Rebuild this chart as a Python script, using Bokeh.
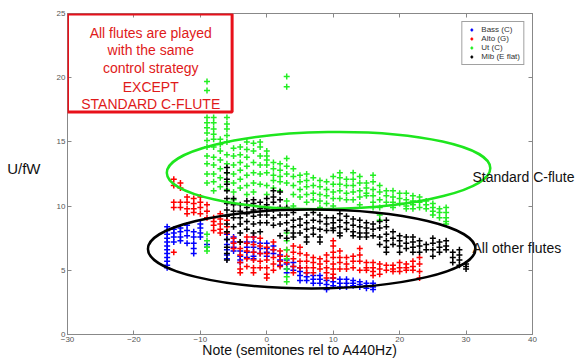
from bokeh.plotting import figure
from bokeh.models import (Range1d, LinearAxis, FixedTicker, BoxAnnotation, Label,
                          Legend, LegendItem, ColumnDataSource, CustomJSTickFormatter)
from bokeh.embed import file_html
from bokeh.resources import INLINE

# ---------------- data ----------------
x_ticks = [-30, -20, -10, 0, 10, 20, 30, 40]
y_ticks = [0, 5, 10, 15, 20, 25]

bass_notes = [-15, -14, -13, -12, -11, -10, -9, -6, -5, -4, -3, -2, -1, 0, 1, 2, 3, 4, 5, 6, 7, 8, 9, 10, 11, 12, 13, 14, 15, 16]
bass_vals = [
    [8.4, 8.1, 7.8, 7.5, 7.2, 6.9, 6.6, 6.3, 6.0, 5.7, 5.4, 5.2],
    [8.2, 7.9, 7.6, 7.2],
    [8.3, 8.0, 7.6, 7.3],
    [8.5, 8.1, 7.7, 7.1],
    [8.0, 7.6, 7.1, 6.7, 6.3],
    [8.6, 8.3, 7.9, 7.6],
    [7.0, 6.8],
    [7.8, 7.4, 7.0, 6.6, 6.2, 5.9],
    [7.6, 7.2, 6.8, 6.5],
    [6.5, 6.1, 5.8, 5.6],
    [7.2, 6.8, 6.4, 6.0],
    [7.6, 7.2, 6.8, 6.4, 6.1, 5.9],
    [7.1, 6.7, 6.3],
    [7.1, 6.7, 6.4, 6.1],
    [6.9, 6.6, 6.3],
    [6.2, 5.8, 5.4],
    [5.8, 5.5, 5.1, 4.8],
    [5.6, 5.3, 5.0],
    [5.2, 4.9, 4.6, 4.2],
    [4.8, 4.5, 4.2],
    [4.6, 4.3, 4.0],
    [4.6, 4.3, 4.0],
    [4.2, 3.9, 3.5],
    [4.4, 4.1, 3.8],
    [4.3, 4.0, 3.7],
    [4.3, 4.0, 3.7],
    [4.2, 4.0, 3.8],
    [4.1, 3.9, 3.7],
    [4.0, 3.8, 3.6],
    [4.0, 3.7, 3.5],
]

alto_notes = [-14, -13, -12, -11, -10, -9, -8, -7, -6, -5, -4, -3, -2, -1, 0, 1, 2, 3, 4, 5, 6, 7, 8, 9, 10, 11, 12, 13, 14, 15, 16, 17, 18, 19, 20, 21, 22, 23]
alto_vals = [
    [12.1, 11.6, 10.3, 9.9, 6.4],
    [11.8, 11.4, 10.3, 9.9],
    [10.7, 10.3, 9.8, 9.4],
    [10.6, 10.2, 9.8, 9.5],
    [10.7, 10.3, 9.9, 9.4],
    [10.1, 9.6, 9.1],
    [9.1, 8.8, 8.5, 8.1],
    [9.4, 9.0, 8.6, 8.2, 7.9],
    [8.9, 8.4, 7.9],
    [7.5, 7.1, 6.7],
    [7.2, 6.7, 6.2, 5.6, 5.1, 4.8],
    [7.6, 7.1, 6.5, 5.9, 5.3],
    [7.6, 7.0, 6.4, 5.8, 5.2, 4.8],
    [7.5, 6.9, 6.3, 5.7, 5.2],
    [6.8, 6.3, 5.8, 5.2, 4.7, 4.4],
    [7.2, 6.6, 6.0, 5.5, 5.0],
    [6.5, 6.1, 5.7, 5.3],
    [6.6, 6.1, 5.6],
    [6.9, 6.4, 5.9, 5.3, 4.8],
    [6.8, 6.3, 5.7, 5.2],
    [6.2, 5.7, 5.2, 4.8],
    [6.0, 5.6, 5.2, 4.8],
    [5.9, 5.5, 5.1],
    [6.2, 5.7, 5.2, 4.8, 4.4],
    [7.3, 6.9, 6.4, 6.0, 5.5, 5.1, 4.7, 4.4],
    [6.5, 6.0, 5.6, 5.1],
    [6.0, 5.5, 5.1],
    [6.1, 5.7, 5.2],
    [6.7, 6.2, 5.7, 5.0],
    [5.6, 5.2, 5.0],
    [5.6, 5.2, 4.9, 4.6],
    [5.5, 5.1, 4.7],
    [5.4, 5.0],
    [5.4, 5.1, 4.9],
    [5.6, 5.2, 4.9],
    [5.5, 5.2, 5.0],
    [5.7, 5.3, 5.0],
    [6.0, 5.5, 4.9, 4.4],
]

ut_notes = [-9, -8, -7, -6, -5, -4, -3, -2, -1, 0, 1, 2, 3, 4, 5, 6, 7, 8, 9, 10, 11, 12, 13, 14, 15, 16, 17, 18, 19, 20, 21, 22, 23, 24, 25, 26, 27]
ut_vals = [
    [19.7, 19.0, 16.9, 16.5, 16.1, 15.7, 15.1, 14.6, 13.9, 13.3, 12.5, 11.8, 7.8, 7.3, 6.8, 6.5],
    [16.9, 16.5, 16.0, 15.6, 15.2, 14.6, 13.8, 13.2, 12.5, 11.9, 11.2],
    [15.2, 14.8, 14.3, 13.6, 12.9, 12.2, 11.5],
    [16.9, 16.4, 16.0, 15.5, 15.0, 14.0, 13.3, 12.6, 11.9, 11.3],
    [14.5, 13.9, 13.2, 12.5, 11.8, 11.1, 10.5],
    [14.6, 14.0, 13.4, 12.8, 12.1, 11.4],
    [15.0, 14.4, 13.8, 13.1, 12.4, 11.6, 10.9],
    [14.9, 14.3, 13.4, 12.6, 11.8, 11.1],
    [15.0, 14.6, 13.9, 13.2, 12.5, 11.7],
    [14.3, 13.9, 13.6, 13.2, 12.6, 11.6, 10.9],
    [13.4, 12.9, 12.4, 12.0, 11.4],
    [13.3, 12.8, 12.3, 11.9, 11.2],
    [20.1, 19.3, 13.7, 13.1, 12.5, 11.8, 10.4, 9.9, 7.9, 7.3, 6.6, 5.9, 5.1, 4.5, 4.1],
    [12.9, 12.3, 11.6, 10.9, 10.0],
    [12.4, 11.9, 11.3, 10.7],
    [12.5, 12.0, 11.5, 10.9, 10.3],
    [12.2, 11.6, 11.0, 10.5],
    [12.0, 11.5, 10.9, 10.4, 9.9],
    [11.9, 11.3, 10.8, 10.2],
    [12.3, 11.7, 11.1, 10.6, 10.0],
    [12.6, 12.2, 11.7, 11.2, 10.6],
    [12.1, 11.6, 11.0, 10.5],
    [12.6, 12.1, 11.6, 11.1, 10.5],
    [12.3, 11.8, 11.2, 10.7, 10.1],
    [11.8, 11.4, 11.0, 10.8],
    [12.4, 11.9, 11.3, 10.8, 10.3, 9.9],
    [11.6, 11.1, 10.5, 9.9, 9.3, 8.9],
    [11.2, 10.8, 10.3],
    [11.2, 10.7, 10.3, 9.9],
    [11.0, 10.6, 10.2],
    [11.0, 10.5, 10.0, 9.8],
    [10.8, 10.4, 10.1, 9.8],
    [10.7, 10.3, 9.9],
    [10.4, 10.1, 9.8],
    [10.2, 9.9, 9.6, 9.3],
    [9.8, 9.5, 9.1],
    [9.9, 9.5, 9.1, 8.8, 8.6],
]

mib_notes = [-6, -5, -4, -3, -2, -1, 0, 1, 2, 3, 4, 5, 6, 7, 8, 9, 10, 11, 12, 13, 14, 15, 16, 17, 18, 19, 20, 21, 22, 23, 24, 25, 26, 27, 28, 29, 30]
mib_vals = [
    [13.0, 12.6, 12.1, 11.7, 11.2, 10.6, 10.2, 9.7, 9.2, 8.6, 8.0, 7.4, 6.8, 6.3, 5.8],
    [10.6, 10.1, 9.6, 9.1, 8.4],
    [10.1, 9.6, 9.1, 8.6, 7.9, 7.2],
    [10.4, 9.9, 9.4, 8.8, 8.2],
    [10.5, 10.2, 9.7, 9.2, 8.6, 7.9],
    [10.3, 9.8, 9.3, 8.7, 8.0],
    [10.6, 10.1, 9.8, 9.3, 8.7],
    [11.2, 10.7, 10.3, 9.7, 9.1, 8.5],
    [11.1, 10.5, 9.9, 9.3, 8.6, 7.7],
    [9.9, 9.3, 8.7, 8.1, 7.5],
    [9.5, 8.9, 8.4, 7.9, 7.6],
    [9.0, 8.5, 7.9],
    [9.3, 8.7, 8.2, 7.6, 7.2],
    [9.5, 8.9, 8.3, 7.8],
    [9.3, 8.8, 8.2, 7.6, 7.2],
    [9.1, 8.6, 8.1],
    [9.1, 8.7, 8.3, 8.1],
    [9.4, 8.9, 8.4, 7.9, 7.7],
    [9.2, 8.7, 8.2],
    [9.0, 8.5, 8.0, 7.7],
    [8.9, 8.4, 7.9, 7.6],
    [8.7, 8.3, 7.9, 7.6],
    [8.6, 8.2, 7.7],
    [8.8, 8.3, 7.6, 7.0],
    [8.9, 8.4, 7.8, 7.3, 6.8, 6.4],
    [8.0, 7.5, 7.0],
    [7.7, 7.3, 6.9, 6.4],
    [7.6, 7.1, 6.7],
    [7.6, 7.2, 6.8, 6.4],
    [7.3, 6.9, 6.4],
    [7.0, 6.6],
    [7.5, 7.1, 6.6, 6.1],
    [7.2, 6.8, 6.4],
    [7.3, 6.9, 6.6],
    [6.4, 6.0, 5.6],
    [6.6, 6.2, 5.8, 5.4],
    [5.5, 5.3, 5.1],
]

series_names = ["Bass (C)", "Alto (G)", "Ut (C)", "Mib (E flat)"]
series_colors = ["#0000ff", "#ff0000", "#22ee22", "#000000"]

note_text = ["All flutes are played", "with the same", "control strategy",
             "EXCEPT", "STANDARD C-FLUTE"]
ellipse_names = ["Standard C-flute", "All other flutes"]
ellipse_label_y = [12.3, 6.7]
y_label = "U/fW"
y_label_pos = [12.9]
x_label = "Note (semitones rel to A440Hz)"


def flatten(notes, vals):
    xs, ys = [], []
    for n, col in zip(notes, vals):
        for v in col:
            xs.append(n)
            ys.append(v)
    return ColumnDataSource(data=dict(x=xs, y=ys))


FONT = "Liberation Sans"

p = figure(width=583, height=360, x_range=Range1d(-30, 40), y_range=Range1d(0, 25),
           output_backend="svg", toolbar_location=None,
           min_border_left=67, min_border_right=51, min_border_top=13, min_border_bottom=26,
           background_fill_color="white", border_fill_color="white")
p.grid.visible = False
p.outline_line_color = "#888888"

AX = "#888888"
for ax, ticks in ((p.xaxis[0], x_ticks), (p.yaxis[0], y_ticks)):
    ax.ticker = FixedTicker(ticks=ticks)
    ax.major_tick_in = 4
    ax.major_tick_out = 0
    ax.minor_tick_in = 0
    ax.minor_tick_out = 0
    ax.axis_line_color = AX
    ax.major_tick_line_color = AX
    ax.major_label_text_font_size = "8px"
    ax.major_label_text_color = "#555555"
    ax.major_label_text_font = FONT
    ax.major_label_standoff = 2

xa = p.xaxis[0]
xa.axis_label = x_label
xa.axis_label_text_font = FONT
xa.axis_label_text_font_size = "14px"
xa.axis_label_text_font_style = "normal"
xa.axis_label_text_color = "#111111"
xa.axis_label_standoff = -3

# mirrored tick marks on top and right
for loc, ticks in (("above", x_ticks), ("right", y_ticks)):
    ax = LinearAxis(ticker=FixedTicker(ticks=ticks), major_tick_in=4, major_tick_out=0,
                    minor_tick_in=0, minor_tick_out=0, axis_line_color=AX,
                    major_tick_line_color=AX, major_label_text_font_size="2px",
                    formatter=CustomJSTickFormatter(code="return ''"),
                    major_label_standoff=0)
    p.add_layout(ax, loc)

# texts next to the ellipses (reaching past the right edge of the frame)
txt_axis = LinearAxis(ticker=FixedTicker(ticks=ellipse_label_y), major_tick_in=0,
                      major_tick_out=0, minor_tick_in=0, minor_tick_out=0,
                      axis_line_color=None, major_tick_line_color=None,
                      major_label_text_font=FONT, major_label_text_font_size="14px",
                      major_label_text_color="#111111", major_label_standoff=-60,
                      formatter=CustomJSTickFormatter(args=dict(names=ellipse_names),
                                                      code="return tick > 10 ? names[0] : names[1]"))
p.add_layout(txt_axis, "right")

# horizontal y label on the left
ylab_axis = LinearAxis(ticker=FixedTicker(ticks=y_label_pos), major_tick_in=0,
                       major_tick_out=0, minor_tick_in=0, minor_tick_out=0,
                       axis_line_color=None, major_tick_line_color=None,
                       major_label_text_font=FONT, major_label_text_font_size="15px",
                       major_label_text_color="#111111", major_label_standoff=13,
                       formatter=CustomJSTickFormatter(args=dict(name=y_label),
                                                       code="return name"))
p.add_layout(ylab_axis, "left")

renderers = []
for notes, vals, color in ((bass_notes, bass_vals, series_colors[0]),
                           (alto_notes, alto_vals, series_colors[1]),
                           (ut_notes, ut_vals, series_colors[2]),
                           (mib_notes, mib_vals, series_colors[3])):
    r = p.scatter(x="x", y="y", source=flatten(notes, vals), marker="cross", size=6,
                  line_color=color, line_width=1.5)
    renderers.append(r)

# ellipses
p.ellipse(x=[9.3], y=[12.77], width=[48.7], height=[6.0], angle=[0.015],
          fill_color=None, line_color="#1ee61e", line_width=2.5)
p.ellipse(x=[6.76], y=[6.66], width=[49.3], height=[6.15],
          fill_color=None, line_color="#000000", line_width=2.5)

legend = Legend(items=[LegendItem(label=n, renderers=[r]) for n, r in zip(series_names, renderers)],
                location="top_right", label_text_font_size="8px", label_text_color="#333333",
                label_text_font=FONT, label_height=7, glyph_height=7, glyph_width=12,
                spacing=0, padding=3, margin=8, label_standoff=4,
                border_line_color="#444444", border_line_width=1,
                background_fill_color="white", background_fill_alpha=1)
p.add_layout(legend)

# red note box
p.add_layout(BoxAnnotation(left=-30.0, right=-5.22, top=24.96, bottom=17.33,
                           fill_color=None, fill_alpha=0, line_color="#e8101a",
                           line_alpha=1, line_width=3))
for txt, yy in zip(note_text, [23.52, 22.12, 20.72, 19.31, 17.99]):
    p.add_layout(Label(x=-17.47, y=yy, text=txt, text_font=FONT, text_font_size="14px",
                       text_color="#e01a1a", text_align="center", text_baseline="alphabetic"))

open("out.html", "w").write(file_html(p, INLINE))
